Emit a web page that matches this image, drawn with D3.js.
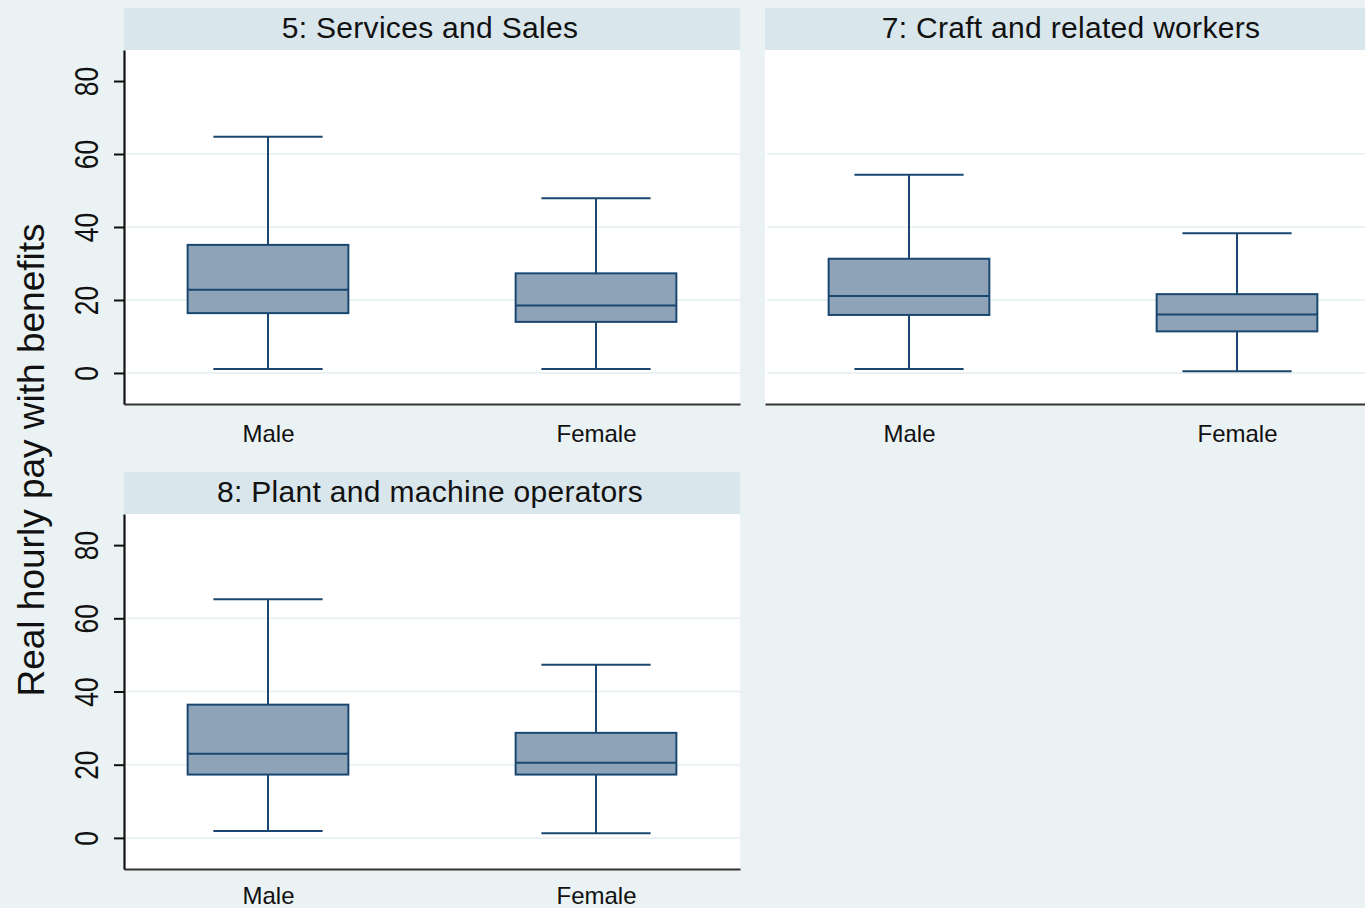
<!DOCTYPE html>
<html>
<head>
<meta charset="utf-8">
<script src="https://cdn.jsdelivr.net/npm/d3@7"></script>
<style>
  html, body { margin: 0; padding: 0; background: #EAF2F3; }
  svg { display: block; }
  text { font-family: "Liberation Sans", Arial, Helvetica, sans-serif; fill: #111; }
</style>
</head>
<body>
<svg id="chart" width="1365" height="908"></svg>
<script>
// ---- Data ----
const panelTitles = ["5: Services and Sales", "7: Craft and related workers", "8: Plant and machine operators"];
const groups = ["Male", "Female"];
const yTicks = [0, 20, 40, 60, 80];
const gridTicks = [0, 20, 40, 60];
const yTitle = "Real hourly pay with benefits";

// box stats per panel: [Male, Female]
const lowerWhisker = [[1.1, 1.1], [1.1, 0.5], [1.9, 1.3]];
const q1Values     = [[16.4, 14.0], [15.9, 11.4], [17.3, 17.3]];
const medianValues = [[22.8, 18.5], [21.1, 16.0], [23.0, 20.5]];
const q3Values     = [[35.1, 27.3], [31.3, 21.6], [36.4, 28.7]];
const upperWhisker = [[64.7, 47.9], [54.3, 38.3], [65.2, 47.3]];

// ---- Layout ----
const svg = d3.select("#chart");
const fillCol = "#8EA3B8", strokeCol = "#1A476F";
const panels = [
  {x0: 124, x1: 740, top: 50, bottom: 404, showY: true},
  {x0: 765, x1: 1381, top: 50, bottom: 404, showY: false},
  {x0: 124, x1: 740, top: 514, bottom: 869, showY: true}
];
const headerH = 42;

svg.append("rect").attr("width", 1365).attr("height", 908).attr("fill", "#EAF2F3");

panels.forEach((p, i) => {
  const g = svg.append("g");
  const y = d3.scaleLinear().domain([-8.5, 88.5]).range([p.bottom, p.top]);
  const x = d3.scalePoint().domain(groups).range([p.x0, p.x1]).padding(0.439);
  const step = x.step();

  // header
  g.append("rect").attr("x", p.x0).attr("y", p.top - headerH)
    .attr("width", p.x1 - p.x0).attr("height", headerH).attr("fill", "#D9E6EB");
  g.append("text").attr("x", (p.x0 + p.x1) / 2 - 2).attr("y", p.top - 12)
    .attr("text-anchor", "middle").style("font-size", "30px")
    .style("letter-spacing", "0.3px")
    .text(panelTitles[i]);

  // plot region
  g.append("rect").attr("x", p.x0).attr("y", p.top)
    .attr("width", p.x1 - p.x0).attr("height", p.bottom - p.top).attr("fill", "#fff");

  // grid
  g.selectAll(".grid").data(gridTicks).enter().append("line")
    .attr("x1", p.x0 + 2).attr("x2", p.x1).attr("y1", d => y(d)).attr("y2", d => y(d))
    .attr("stroke", "#EAF2F3").attr("stroke-width", 2);

  // boxes
  groups.forEach((grp, j) => {
    const cx = x(grp);
    const bw = step * 0.49, cw = step * 0.333;
    g.append("line").attr("x1", cx).attr("x2", cx)
      .attr("y1", y(lowerWhisker[i][j])).attr("y2", y(q1Values[i][j]))
      .attr("stroke", strokeCol).attr("stroke-width", 2);
    g.append("line").attr("x1", cx).attr("x2", cx)
      .attr("y1", y(q3Values[i][j])).attr("y2", y(upperWhisker[i][j]))
      .attr("stroke", strokeCol).attr("stroke-width", 2);
    [lowerWhisker[i][j], upperWhisker[i][j]].forEach(v => {
      g.append("line").attr("x1", cx - cw / 2).attr("x2", cx + cw / 2)
        .attr("y1", y(v)).attr("y2", y(v))
        .attr("stroke", strokeCol).attr("stroke-width", 2);
    });
    g.append("rect").attr("x", cx - bw / 2).attr("width", bw)
      .attr("y", y(q3Values[i][j])).attr("height", y(q1Values[i][j]) - y(q3Values[i][j]))
      .attr("fill", fillCol).attr("stroke", strokeCol).attr("stroke-width", 2);
    g.append("line").attr("x1", cx - bw / 2).attr("x2", cx + bw / 2)
      .attr("y1", y(medianValues[i][j])).attr("y2", y(medianValues[i][j]))
      .attr("stroke", strokeCol).attr("stroke-width", 2);
  });

  // x axis
  const labelOffset = Math.min(38, 908 - 4 - p.bottom);
  const xa = g.append("g").attr("transform", `translate(0,${p.bottom})`)
    .call(d3.axisBottom(x).tickSize(0).tickSizeOuter(0));
  xa.select(".domain").attr("stroke", "#333").attr("stroke-width", 2.2);
  xa.selectAll("text").attr("y", labelOffset).attr("dy", 0)
    .style("font-size", "24px").style("font-family", "'Liberation Sans', Arial, sans-serif")
    .attr("fill", "#111");

  // y axis
  if (p.showY) {
    const ya = g.append("g").attr("transform", `translate(${p.x0},0)`)
      .call(d3.axisLeft(y).tickValues(yTicks).tickSize(10).tickSizeOuter(0));
    ya.select(".domain").attr("stroke", "#111").attr("stroke-width", 2.2);
    ya.selectAll(".tick line").attr("stroke", "#111").attr("stroke-width", 2);
    ya.selectAll(".tick text")
      .attr("x", null).attr("dy", null)
      .attr("transform", "translate(-26,0) rotate(-90) scale(0.8,1)")
      .attr("text-anchor", "middle").attr("y", 0)
      .style("font-size", "33px").style("font-family", "'Liberation Sans', Arial, sans-serif")
      .attr("fill", "#111");
  }
});

// y title
svg.append("text")
  .attr("transform", "translate(44,460) rotate(-90)")
  .attr("text-anchor", "middle").style("font-size", "37px")
  .text(yTitle);
</script>
</body>
</html>
